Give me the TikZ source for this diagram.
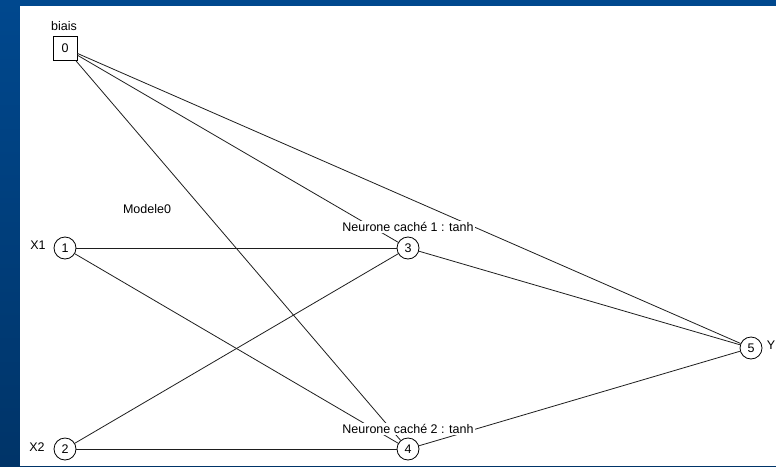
\documentclass[tikz,border=0pt]{standalone}
\usepackage{fontspec}
\setmainfont{Liberation Sans}
\usetikzlibrary{positioning}
\definecolor{frameblue}{RGB}{0,72,142}
\definecolor{framedark}{RGB}{0,52,104}
\definecolor{wire}{RGB}{30,30,30}
\tikzset{
  neuron/.style={draw,circle,minimum size=22pt,inner sep=0pt,line width=0.8pt},
  biasbox/.style={draw,rectangle,minimum size=24pt,inner sep=0pt,line width=0.8pt},
  lbl/.style={inner sep=1pt,font=\fontsize{12.5}{14}\selectfont},
  hidlabel/.style={lbl,fill=white,inner sep=1pt},
  wire/.style={draw=wire,line width=0.8pt}
}
\begin{document}
\begin{tikzpicture}[x=1pt,y=-1pt,font=\fontsize{12.5}{14}\selectfont]
\useasboundingbox (0,0) rectangle (776,466);
% frame
\shade[top color=frameblue,bottom color=framedark] (0,0) rectangle (776,466);
\fill[white] (20,6) rectangle (776,466);

% units
\node[biasbox] (n0) at (65,48) {0};
\node[neuron] (n1) at (65,248) {1};
\node[neuron] (n2) at (65,449) {2};
\node[neuron] (n3) at (408,248) {3};
\node[neuron] (n4) at (408,449) {4};
\node[neuron] (n5) at (751,348) {5};

% connections
\draw[wire] (n0) -- (n3);
\draw[wire] (n0) -- (n4);
\draw[wire] (n0) -- (n5);
\draw[wire] (n1) -- (n3);
\draw[wire] (n1) -- (n4);
\draw[wire] (n2) -- (n3);
\draw[wire] (n2) -- (n4);
\draw[wire] (n3) -- (n5);
\draw[wire] (n4) -- (n5);

% texts
\node[lbl] (biais) at (64,26) {biais};
\node[lbl] (x1) at (38,245) {X1};
\node[lbl] (x2) at (37,447) {X2};
\node[lbl] (y) at (771,345) {Y};
\node[lbl] (modele) at (147,209) {Modele0};
\node[hidlabel] (h1) at (408,227) {Neurone caché 1 : tanh};
\node[hidlabel] (h2) at (408,429) {Neurone caché 2 : tanh};
\end{tikzpicture}
\end{document}
